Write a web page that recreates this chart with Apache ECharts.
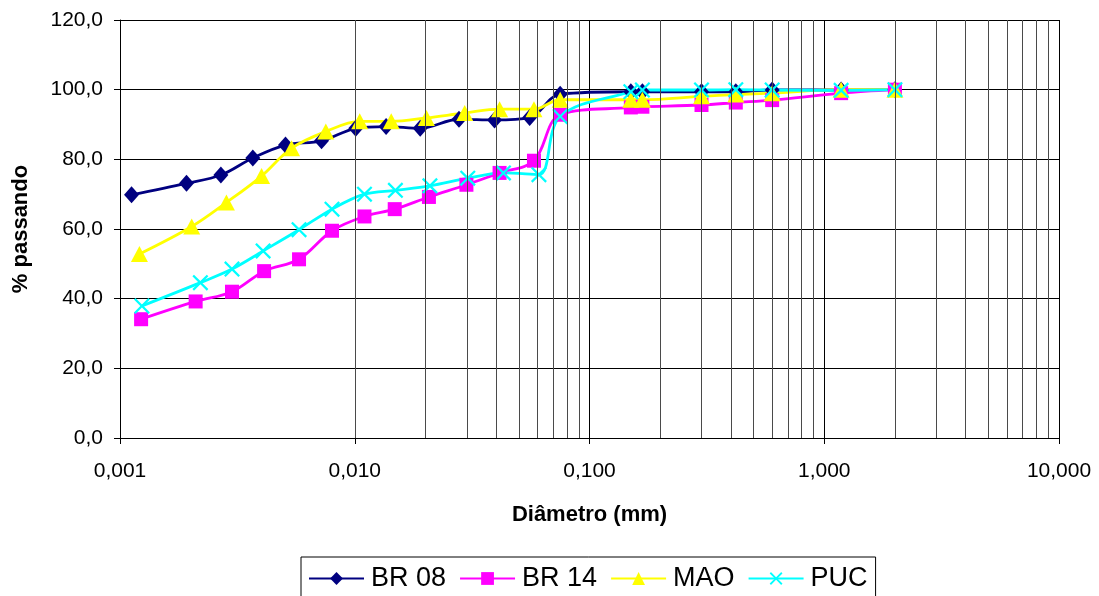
<!DOCTYPE html>
<html>
<head>
<meta charset="utf-8">
<script src="https://cdn.jsdelivr.net/npm/echarts@6/dist/echarts.min.js"></script>
<style>
  html, body { margin: 0; padding: 0; background: #fff; }
  #chart { width: 1099px; height: 596px; }
</style>
</head>
<body>
<div id="chart"></div>
<script>
// diâmetro (mm) e % passando de cada amostra
const br08X = [0.00112, 0.00192, 0.00269, 0.00368, 0.00507, 0.00722, 0.0101, 0.0136, 0.019, 0.0278, 0.0394, 0.0556, 0.075, 0.15, 0.168, 0.3, 0.42, 0.6, 1.18, 2.0]
const br08Y = [69.8, 73.1, 75.5, 80.4, 84.1, 85.3, 88.9, 89.4, 88.9, 91.5, 91.3, 92.0, 98.7, 99.4, 99.4, 99.4, 99.4, 99.9, 99.9, 100]

const br14X = [0.00123, 0.0021, 0.003, 0.00411, 0.00579, 0.008, 0.011, 0.0148, 0.0207, 0.0299, 0.0414, 0.058, 0.075, 0.15, 0.168, 0.3, 0.42, 0.6, 1.18, 2.0]
const br14Y = [34.1, 39.2, 42.0, 47.9, 51.3, 59.5, 63.6, 65.7, 69.2, 72.7, 76.1, 79.6, 92.8, 94.9, 95.1, 95.6, 96.3, 97.0, 99.0, 100]

const maoX = [0.00121, 0.00202, 0.00284, 0.00401, 0.00538, 0.00753, 0.0105, 0.0143, 0.0202, 0.0294, 0.0414, 0.058, 0.075, 0.15, 0.168, 0.3, 0.42, 0.6, 1.18, 2.0]
const maoY = [52.8, 60.7, 67.6, 75.2, 83.2, 88.0, 90.9, 90.9, 91.9, 93.3, 94.4, 94.4, 97.1, 97.1, 97.1, 98.1, 98.6, 99.0, 100, 100]

const pucX = [0.00124, 0.0022, 0.003, 0.00407, 0.00579, 0.008, 0.011, 0.0149, 0.0209, 0.0303, 0.043, 0.0609, 0.075, 0.15, 0.168, 0.3, 0.42, 0.6, 1.18, 2.0]
const pucY = [37.9, 44.6, 48.5, 53.7, 59.8, 65.7, 70.0, 71.1, 72.4, 74.6, 76.1, 75.6, 92.3, 99.4, 99.9, 99.9, 100, 99.9, 99.8, 100]

// linhas de grade secundárias do eixo log
const minorGrid = [
  0.002, 0.003, 0.004, 0.005, 0.006, 0.007, 0.008, 0.009,
  0.02, 0.03, 0.04, 0.05, 0.06, 0.07, 0.08, 0.09,
  0.2, 0.3, 0.4, 0.5, 0.6, 0.7, 0.8, 0.9,
  2, 3, 4, 5, 6, 7, 8, 9
]

const FONT = 'Liberation Sans'
const crossPath = 'path://M0,1L1,0L5,4L9,0L10,1L6,5L10,9L9,10L5,6L1,10L0,9L4,5Z'

const chart = echarts.init(document.getElementById('chart'))

const makeSeries = (name, xs, ys, color, symbol, size) => ({
  name,
  type: 'line',
  smooth: 0.35,
  data: xs.map((x, i) => [x, ys[i]]),
  symbol,
  symbolSize: size,
  lineStyle: { color, width: 2.8 },
  itemStyle: { color },
  emphasis: { disabled: true },
  z: 3
})

chart.setOption({
  animation: false,
  backgroundColor: '#fff',
  textStyle: { fontFamily: FONT },
  grid: {
    left: 120,
    right: 40,
    top: 20,
    bottom: 158,
    outerBoundsMode: 'none'
  },
  legend: {
    data: ['BR 08', 'BR 14', 'MAO', 'PUC'],
    left: 301,
    top: 557,
    borderColor: '#000',
    borderWidth: 1,
    borderRadius: 0,
    padding: [8, 8, 20, 7],
    itemWidth: 55,
    itemHeight: 16,
    itemGap: 13,
    textStyle: { fontSize: 27, color: '#000', fontFamily: FONT, padding: [0, 0, 0, 2] }
  },
  xAxis: {
    type: 'log',
    logBase: 10,
    min: 0.001,
    max: 10,
    name: 'Diâmetro (mm)',
    nameLocation: 'middle',
    nameGap: 66,
    nameTextStyle: { fontSize: 22, fontWeight: 'bold', color: '#000', fontFamily: FONT },
    axisLine: { lineStyle: { color: '#000', width: 1 } },
    axisTick: { show: true, length: 6, lineStyle: { color: '#000' } },
    axisLabel: {
      fontSize: 21,
      color: '#000',
      margin: 23,
      formatter: v => v.toFixed(3).replace('.', ',')
    },
    splitLine: { show: true, lineStyle: { color: '#000', width: 1 } }
  },
  yAxis: {
    type: 'value',
    min: 0,
    max: 120,
    interval: 20,
    name: '% passando',
    nameLocation: 'middle',
    nameGap: 88,
    nameTextStyle: { fontSize: 22, fontWeight: 'bold', color: '#000', fontFamily: FONT },
    axisLine: { show: true, lineStyle: { color: '#000', width: 1 } },
    axisTick: { show: true, length: 6, lineStyle: { color: '#000' } },
    axisLabel: {
      fontSize: 21,
      color: '#000',
      margin: 17,
      formatter: v => v.toFixed(1).replace('.', ',')
    },
    splitLine: { show: true, lineStyle: { color: '#000', width: 1 } }
  },
  series: [
    // grade secundária vertical
    {
      name: 'grade',
      type: 'line',
      data: [],
      silent: true,
      z: 1,
      markLine: {
        silent: true,
        symbol: ['none', 'none'],
        label: { show: false },
        emphasis: { disabled: true },
        lineStyle: { color: '#4a4a4a', width: 1, type: 'solid' },
        data: minorGrid.map(v => ({ xAxis: v }))
      }
    },
    makeSeries('BR 08', br08X, br08Y, '#000080', 'diamond', [15, 17]),
    makeSeries('BR 14', br14X, br14Y, '#FF00FF', 'rect', 14),
    makeSeries('MAO', maoX, maoY, '#FFFF00', 'triangle', [17, 16]),
    makeSeries('PUC', pucX, pucY, '#00FFFF', crossPath, 16)
  ]
})
</script>
</body>
</html>
